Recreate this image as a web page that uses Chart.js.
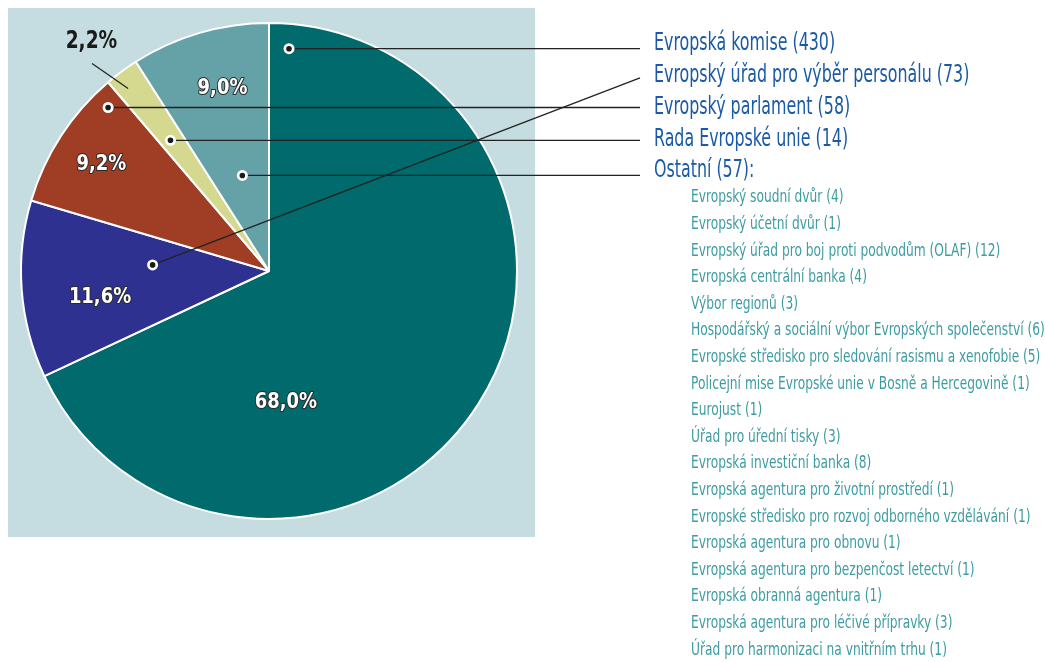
<!DOCTYPE html>
<html>
<head>
<meta charset="utf-8">
<script src="https://cdn.jsdelivr.net/npm/chart.js@4.4.1/dist/chart.umd.min.js"></script>
<style>
  body { margin: 0; background: #fff; }
  canvas { display: block; }
</style>
</head>
<body>
<canvas id="pieChart" width="1045" height="662"></canvas>
<script>
const institutions = [
  "Evropská komise",
  "Evropský úřad pro výběr personálu",
  "Evropský parlament",
  "Rada Evropské unie",
  "Ostatní"
];
const counts = [430, 73, 58, 14, 57];
const sliceColors = ["#006a6d", "#2f3191", "#9f3d25", "#d5d990", "#65a2a7"];

const otherNames = [
  "Evropský soudní dvůr",
  "Evropský účetní dvůr",
  "Evropský úřad pro boj proti podvodům (OLAF)",
  "Evropská centrální banka",
  "Výbor regionů",
  "Hospodářský a sociální výbor Evropských společenství",
  "Evropské středisko pro sledování rasismu a xenofobie",
  "Policejní mise Evropské unie v Bosně a Hercegovině",
  "Eurojust",
  "Úřad pro úřední tisky",
  "Evropská investiční banka",
  "Evropská agentura pro životní prostředí",
  "Evropské středisko pro rozvoj odborného vzdělávání",
  "Evropská agentura pro obnovu",
  "Evropská agentura pro bezpenčost letectví",
  "Evropská obranná agentura",
  "Evropská agentura pro léčivé přípravky",
  "Úřad pro harmonizaci na vnitřním trhu"
];
const otherCounts = [4, 1, 12, 4, 3, 6, 5, 1, 1, 3, 8, 1, 1, 1, 1, 1, 3, 1];

// where things sit inside each slice: [share of slice angle, share of radius]
const dotSpots = [[0.021, 0.90], [0.675, 0.47], [0.876, 0.925], [0.43, 0.66], [0.52, 0.40]];
const pctSpots = [[0.705, 0.535], [0.385, 0.69], [0.48, 0.80], [0.34, 1.17], [0.56, 0.76]];

const FONT = '"DejaVu Sans Condensed", "DejaVu Sans", sans-serif';

function polar(arc, spot) {
  const a = arc.startAngle + (arc.endAngle - arc.startAngle) * spot[0];
  const r = arc.outerRadius * spot[1];
  return { x: arc.x + Math.cos(a) * r, y: arc.y + Math.sin(a) * r };
}

// squeeze text horizontally to get the narrow look of the original
function narrowText(c, text, x, y, sx, outline) {
  c.save();
  c.translate(x, y);
  c.scale(sx, 1);
  if (outline) c.strokeText(text, 0, 0);
  c.fillText(text, 0, 0);
  c.restore();
}

const total = counts.reduce((s, v) => s + v, 0);
const pctText = counts.map(v => (v / total * 100).toFixed(1).replace(".", ",") + "%");

const decorPlugin = {
  id: "decor",
  beforeDraw(chart) {
    const c = chart.ctx;
    c.save();
    c.fillStyle = "#c5dde0";
    c.fillRect(8, 8, 527, 529);
    c.restore();
  },
  afterDraw(chart) {
    const c = chart.ctx;
    const arcs = chart.getDatasetMeta(0).data;
    c.save();

    // percentages
    c.textAlign = "center";
    c.textBaseline = "middle";
    arcs.forEach((arc, i) => {
      const p = polar(arc, pctSpots[i]);
      if (i === 3) {
        c.font = "bold 24px " + FONT;
        c.fillStyle = "#1a1a1a";
        narrowText(c, pctText[i], p.x, p.y, 0.86, false);
        const a = polar(arc, [0.0, 1.10]);
        const b = polar(arc, [0.35, 0.93]);
        c.strokeStyle = "#222";
        c.lineWidth = 1.2;
        c.beginPath();
        c.moveTo(a.x, a.y);
        c.lineTo(b.x, b.y);
        c.stroke();
      } else {
        c.font = "bold 21px " + FONT;
        c.lineWidth = 2;
        c.strokeStyle = "#2a2a2a";
        c.lineJoin = "round";
        c.fillStyle = "#fff";
        narrowText(c, pctText[i], p.x, p.y, 0.95, true);
      }
    });

    // leader lines to the labels on the right
    const rowY = i => 44 + i * 31.8;
    arcs.forEach((arc, i) => {
      const d = polar(arc, dotSpots[i]);
      c.strokeStyle = "#222";
      c.lineWidth = 1.3;
      c.beginPath();
      c.moveTo(d.x, d.y);
      c.lineTo(640, i === 1 ? rowY(i) + 2 : d.y);
      c.stroke();
    });
    arcs.forEach((arc, i) => {
      const d = polar(arc, dotSpots[i]);
      c.fillStyle = "#fff";
      c.beginPath();
      c.arc(d.x, d.y, 5.5, 0, Math.PI * 2);
      c.fill();
      c.fillStyle = "#1a1a1a";
      c.beginPath();
      c.arc(d.x, d.y, 2.8, 0, Math.PI * 2);
      c.fill();
    });

    // main labels
    c.textAlign = "left";
    c.fillStyle = "#1b5aa6";
    c.font = "24px " + FONT;
    institutions.forEach((name, i) => {
      const t = name + " (" + counts[i] + ")" + (i === institutions.length - 1 ? ":" : "");
      narrowText(c, t, 654, rowY(i), 0.735, false);
    });

    // breakdown of "Ostatní"
    c.fillStyle = "#3c9ca2";
    c.font = "17px " + FONT;
    otherNames.forEach((name, i) => {
      narrowText(c, name + " (" + otherCounts[i] + ")", 691, 198 + i * 26.6, 0.80, false);
    });
    c.restore();
  }
};

new Chart(document.getElementById("pieChart"), {
  type: "pie",
  data: {
    labels: institutions,
    datasets: [{
      data: counts,
      backgroundColor: sliceColors,
      borderColor: "#fff",
      borderWidth: 2
    }]
  },
  options: {
    responsive: false,
    animation: false,
    layout: { padding: { left: 20, top: 22, right: 527, bottom: 142 } },
    plugins: {
      legend: { display: false },
      tooltip: { enabled: false }
    }
  },
  plugins: [decorPlugin]
});
</script>
</body>
</html>
